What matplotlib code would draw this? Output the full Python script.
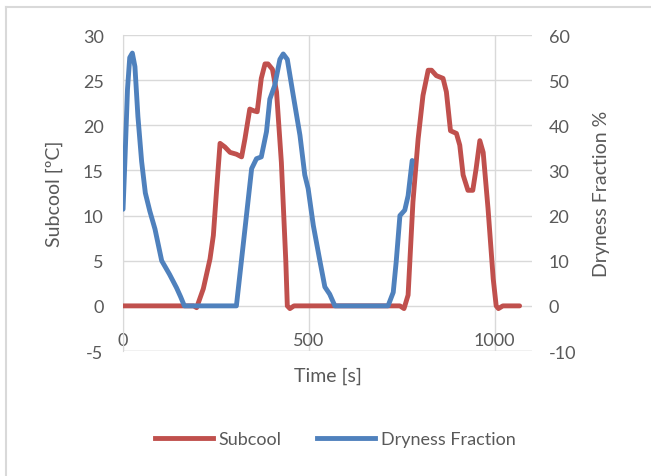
import numpy as np
import matplotlib.pyplot as plt
from matplotlib.lines import Line2D

plt.rcParams['font.family'] = ['Lato', 'DejaVu Sans']
plt.rcParams['axes.unicode_minus'] = False
TXT = '#595959'
GRID = '#D9D9D9'
RED = '#C0504D'
BLUE = '#4F81BD'

# subcool [C] vs time [s]
t_sub = [0, 100, 190, 198, 216, 234, 243, 252, 261, 274, 288, 305, 319, 328, 341,
         352, 361, 372, 382, 390, 402, 413, 426, 438, 442, 449, 460, 600, 745,
         756, 767, 780, 794, 807, 821, 830, 843, 861, 870, 881, 897, 906, 915,
         928, 941, 950, 960, 969, 982, 996, 1004, 1010, 1022, 1067]
subcool = [0, 0, 0, -0.2, 1.9, 5.2, 7.8, 13, 18, 17.6, 17, 16.8, 16.5, 18.5, 21.8,
           21.6, 21.5, 25.2, 26.8, 26.8, 26.2, 23.7, 15.9, 4.9, 0, -0.3, 0, 0, 0,
           -0.3, 1.2, 11.5, 18.5, 23.3, 26.1, 26.1, 25.5, 25.2, 23.7, 19.4, 19.1, 17.8, 14.5,
           12.8, 12.8, 15.2, 18.3, 17, 10.8, 3, 0, -0.3, 0, 0]

# dryness fraction [%] vs time [s]
t_dry = [0, 5, 12, 18, 25, 32, 40, 50, 60, 72, 86, 104, 125, 144, 155, 165, 240,
         305, 328, 346, 359, 372, 386, 395, 408, 422, 431, 442, 458, 476, 489,
         498, 512, 530, 543, 556, 570, 650, 713, 727, 735, 745, 758, 767, 778]
dryness = [21.4, 32, 48, 55, 56, 53, 42, 32, 25, 21, 17, 10, 7, 4, 2, 0, 0,
           0, 17, 30.4, 32.6, 33, 38.6, 45.8, 48.8, 54.6, 55.8, 54.6, 46.6, 37.8, 29,
           26, 17.8, 9.8, 4.2, 2.6, 0, 0, 0, 3, 9.8, 20, 21.2, 24.4, 32.2]

x_ticks = [0, 500, 1000]

fig = plt.figure(figsize=(6.51, 4.77), dpi=100)
ax = fig.add_axes([0.189, 0.262, 0.628, 0.6625])
ax2 = ax.twinx()

ax.plot(t_sub, subcool, color=RED, lw=3.5, solid_joinstyle='round',
        solid_capstyle='round', zorder=3)
ax2.plot(t_dry, dryness, color=BLUE, lw=3.5, solid_joinstyle='round',
         solid_capstyle='round', zorder=3)

ax.set_xlim(0, 1100)
ax.set_ylim(-5, 30)
ax2.set_ylim(-10, 60)
ax.set_yticks(np.arange(-5, 31, 5))
ax2.set_yticks(np.arange(-10, 61, 10))
ax.set_xticks(x_ticks)

ax.grid(True, color=GRID, lw=1)
ax.set_axisbelow(True)
for a in (ax, ax2):
    for s in a.spines.values():
        s.set_visible(False)
ax.spines['bottom'].set_position(('data', 0))
ax.spines['left'].set_visible(True)
ax.spines['left'].set_color(GRID)
ax.axhline(-5, color=GRID, lw=1, zorder=0)

ax.tick_params(axis='x', length=0, pad=19, labelsize=13, labelcolor=TXT)
ax.tick_params(axis='y', length=0, pad=14, labelsize=13, labelcolor=TXT)
ax2.tick_params(axis='y', length=0, pad=12, labelsize=13, labelcolor=TXT)

ax.set_ylabel('Subcool [ºC]', fontsize=14, color=TXT, labelpad=14)
ax2.set_ylabel('Dryness Fraction %', fontsize=14, color=TXT, labelpad=12)
ax.set_xlabel('Time [s]', fontsize=14, color=TXT)
ax.xaxis.set_label_coords(0.5, -0.05)

handles = [Line2D([], [], color=RED, lw=3.5), Line2D([], [], color=BLUE, lw=3.5)]
leg = fig.legend(handles, ['Subcool', 'Dryness Fraction'], loc='center',
                 bbox_to_anchor=(0.515, 0.077), ncol=2, frameon=False,
                 fontsize=13, handlelength=3.2, handletextpad=0.3, columnspacing=2.0)
for txt in leg.get_texts():
    txt.set_color(TXT)

# outer chart border (top and left visible)
fig.add_artist(Line2D([6 / 651, 1], [1 - 8 / 477, 1 - 8 / 477], color=GRID, lw=1.5))
fig.add_artist(Line2D([6 / 651, 6 / 651], [0, 1 - 8 / 477], color=GRID, lw=1.5))

plt.savefig('out.png', dpi=100)
